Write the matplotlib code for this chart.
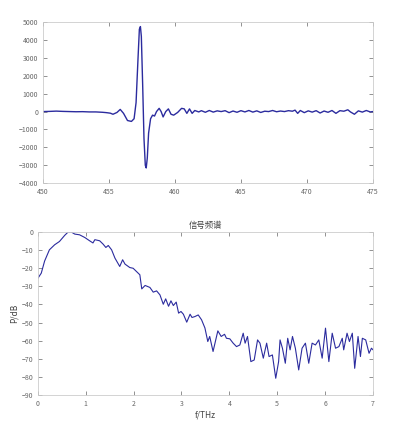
import matplotlib
matplotlib.use("Agg")
import matplotlib.pyplot as plt

plt.rcParams['font.family'] = ['Noto Sans CJK SC', 'DejaVu Sans']

# Time-domain signal (ps, a.u.)
t_ps = [450.0, 450.5, 451.0, 451.5, 452.0, 452.5, 453.0, 453.5, 454.0, 454.5,
        454.8, 455.1, 455.3, 455.6, 455.85, 456.1, 456.4, 456.7, 456.9, 457.05,
        457.2, 457.3, 457.38, 457.45, 457.55, 457.65, 457.75, 457.82, 457.9, 458.0,
        458.15, 458.3, 458.45, 458.6, 458.8, 458.95, 459.1, 459.3, 459.5, 459.7,
        459.9, 460.2, 460.5, 460.7, 460.9, 461.1, 461.3, 461.5, 461.8, 462.0,
        462.3, 462.6, 462.9, 463.2, 463.5, 463.8, 464.1, 464.4, 464.7, 465.0,
        465.3, 465.6, 465.9, 466.2, 466.5, 466.8, 467.1, 467.4, 467.7, 468.0,
        468.3, 468.6, 468.9, 469.1, 469.3, 469.5, 469.8, 470.1, 470.4, 470.7,
        471.0, 471.3, 471.6, 471.9, 472.2, 472.5, 472.8, 473.1, 473.3, 473.6,
        473.9, 474.2, 474.5, 474.8, 475.0]
amp = [0, 10, 25, 10, 0, -10, -5, -20, -20, -40,
       -60, -90, -150, -50, 120, -100, -500, -550, -400, 500,
       3000, 4600, 4750, 4200, 1500, -1500, -3000, -3150, -2600, -1200,
       -400, -200, -250, 0, 180, 0, -300, 0, 150, -150,
       -200, -50, 180, 150, -100, 150, -100, 60, -20, 50,
       -40, 60, -30, 40, 0, 50, -60, 30, -40, 50,
       -20, 60, -30, 40, -50, 20, 0, 60, -10, 30,
       0, 50, 20, 80, -100, 60, -60, 40, -30, 50,
       -80, 30, -40, 60, -100, 50, 20, 100, -20, -150,
       40, -30, 60, -20, 0]

# Spectrum (THz, dB)
f_thz = [0.0, 0.07, 0.14, 0.24, 0.35, 0.45, 0.56, 0.63, 0.7, 0.77,
         0.87, 0.98, 1.08, 1.15, 1.19, 1.29, 1.36, 1.42, 1.47, 1.54,
         1.61, 1.71, 1.77, 1.82, 1.92, 1.99, 2.06, 2.13, 2.17, 2.24,
         2.34, 2.41, 2.48, 2.55, 2.62, 2.67, 2.73, 2.78, 2.83, 2.89,
         2.94, 2.99, 3.04, 3.11, 3.18, 3.22, 3.28, 3.35, 3.42, 3.49,
         3.55, 3.59, 3.66, 3.76, 3.83, 3.90, 3.94, 4.01, 4.08, 4.15,
         4.22, 4.29, 4.33, 4.38, 4.45, 4.52, 4.59, 4.64, 4.71, 4.78,
         4.83, 4.90, 4.97, 5.03, 5.06, 5.11, 5.17, 5.22, 5.27, 5.32,
         5.38, 5.45, 5.52, 5.59, 5.66, 5.73, 5.80, 5.87, 5.94, 6.01,
         6.08, 6.15, 6.22, 6.29, 6.36, 6.39, 6.46, 6.51, 6.57, 6.62,
         6.69, 6.74, 6.78, 6.85, 6.92, 6.97, 7.0]
p_db = [-25.5, -22.7, -16, -9.8, -7, -5.2, -1.8, 0, 0, -1.1,
        -1.5, -3, -4.8, -6, -4.2, -4.8, -6.6, -8.5, -7.4, -9.8,
        -14.4, -19, -15.3, -17.7, -19.6, -20, -21.8, -23.6, -31.4, -29.5,
        -30.6, -33.2, -32.5, -34.7, -39.9, -36.9, -41, -38, -40.6, -38.7,
        -44.8, -43.9, -45.4, -49.8, -45.4, -47.2, -46.7, -45.8, -48.5, -53,
        -60.5, -57.7, -66, -54.6, -57.7, -56.5, -58.7, -59, -61.4, -63.3,
        -62.4, -55.9, -61.4, -57.7, -71.6, -70.7, -59.6, -61.4, -69.7, -61.4,
        -68.8, -67.9, -80.8, -71.6, -59.6, -64.2, -72.5, -58.7, -65.1, -57.7,
        -64.2, -76.2, -64.2, -61.4, -72.5, -61.4, -62.4, -59.6, -69.7, -53.1,
        -71.6, -55.9, -64.2, -63.3, -58.7, -65.1, -55.9, -60.5, -55.9, -75.3,
        -57.7, -68.8, -58.7, -59.6, -67, -64.2, -65]

line_color = '#2b2b9e'
grey = '#999999'


def style(ax):
    ax.tick_params(direction='in', top=True, right=True, labelsize=5,
                   colors='#666666', length=3, width=0.5)
    for s in ax.spines.values():
        s.set_color('#cccccc')
        s.set_linewidth(0.6)


fig = plt.figure(figsize=(3.95, 4.33), dpi=100)

ax1 = fig.add_axes([0.109, 0.577, 0.835, 0.372])
ax1.plot(t_ps, amp, color=line_color, lw=1.0)
ax1.set_xlim(450, 475)
ax1.set_ylim(-4000, 5000)
ax1.set_xticks(range(450, 476, 5))
ax1.set_yticks(range(-4000, 5001, 1000))
style(ax1)

ax2 = fig.add_axes([0.096, 0.088, 0.848, 0.376])
ax2.plot(f_thz, p_db, color=line_color, lw=0.8)
ax2.set_xlim(0, 7)
ax2.set_ylim(-90, 0)
ax2.set_xticks(range(0, 8))
ax2.set_yticks(range(-90, 1, 10))
ax2.set_title('信号频谱', fontsize=6, color='#444444', pad=3)
ax2.set_xlabel('f/THz', fontsize=6, color='#444444', labelpad=2)
ax2.set_ylabel('P/dB', fontsize=6, color='#444444', labelpad=2)
style(ax2)

fig.savefig('out.png', dpi=100)
